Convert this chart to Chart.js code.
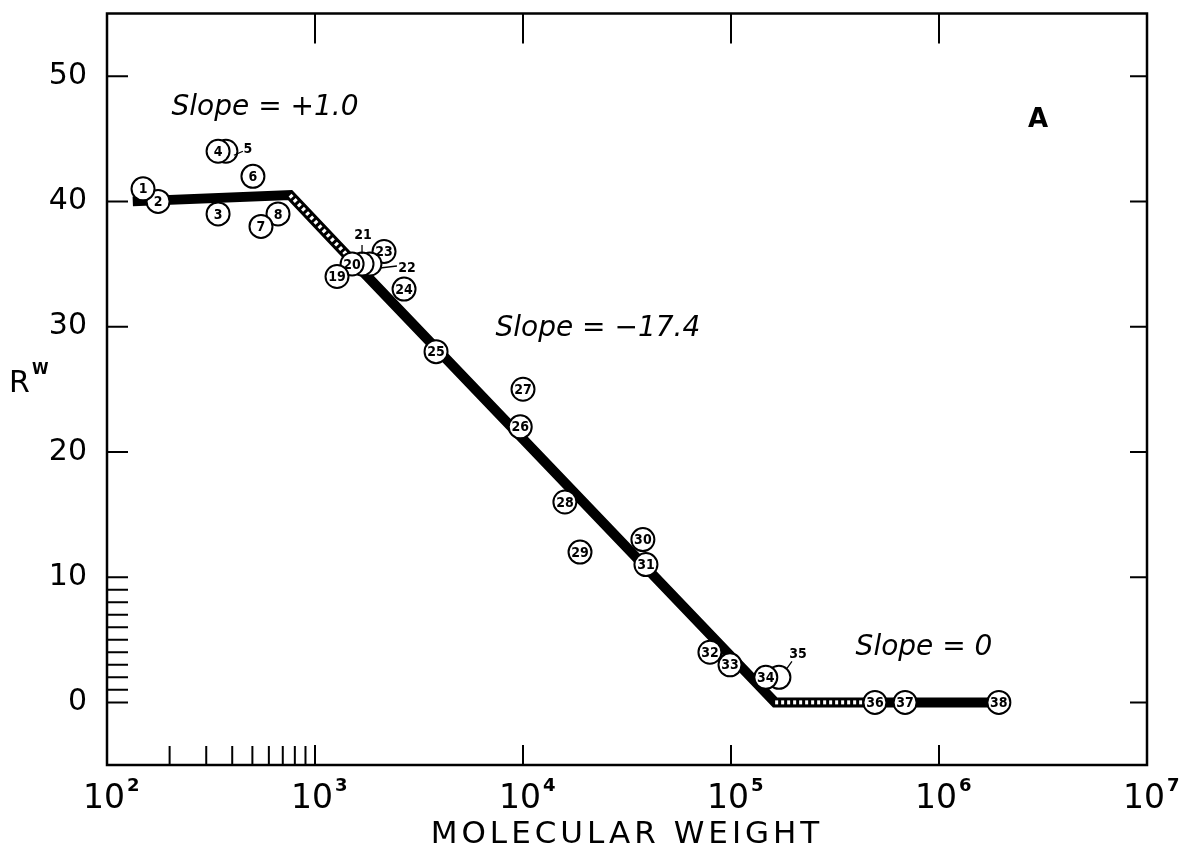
<!DOCTYPE html>
<html lang="en">
<head>
<meta charset="UTF-8">
<title>R^W vs Molecular Weight</title>
<script src="https://cdn.jsdelivr.net/npm/chart.js"></script>
<style>
  html, body { margin: 0; padding: 0; background: #fff; }
  #wrap { width: 1185px; height: 853px; }
</style>
</head>
<body>
<div id="wrap"><canvas id="chart"></canvas></div>
<script>
// numbered compounds: molecular weight and R^W
const ids = [1, 2, 3, 4, 5, 6, 7, 8, 19, 20, 21, 22, 23, 24, 25, 26, 27, 28, 29, 30, 31, 32, 33, 34, 35, 36, 37, 38];
const mw  = [149, 176, 342, 342, 373, 503, 550, 664, 1276, 1508, 1683, 1837, 2147, 2680, 3819, 9700, 10000, 15900, 18800, 37700, 39000, 79200, 98900, 147000, 170000, 492000, 687000, 1940000];
const rw  = [41, 40, 39, 44, 44, 42, 38, 39, 34, 35, 35, 35, 36, 33, 28, 22, 25, 16, 12, 13, 11, 4, 3, 2, 2, 0, 0, 0];

// fitted broken line; hatched[i] tells whether segment i..i+1 is hatched
const fitMw = [133, 759, 1426, 163000, 470000, 1950000];
const fitRw = [40, 40.5, 35.7, 0, 0, 0];
const hatched = [false, true, false, true, false];

// axis ticks
const xExp = [2, 3, 4, 5, 6, 7];
const xMinor = [200, 300, 400, 500, 600, 700, 800, 900];
const yTicks = [0, 10, 20, 30, 40, 50];
const yMinor = [1, 2, 3, 4, 5, 6, 7, 8, 9];

// draw higher numbers first so lower ones sit on top
const order = ids.map((_, i) => i).reverse();
const pts = order.map(i => ({ x: mw[i], y: rw[i] }));
const fitPts = fitMw.map((m, i) => ({ x: m, y: fitRw[i] }));

// numbers written outside their circle, with a short leader (pixel offsets)
const outside = {
  5:  { lx: 22, ly: -2,  a: [8, 4],  b: [17, 0] },
  21: { lx: 1,  ly: -29, a: [0, -19], b: [0, -10] },
  22: { lx: 37, ly: 4,   a: [10, 4], b: [27, 2] },
  35: { lx: 19, ly: -23, a: [8, -9], b: [13, -16] }
};

const FONT = "'DejaVu Sans', sans-serif";
const NUMFONT = "bold 14px 'DejaVu Sans Condensed', 'Liberation Sans Narrow', sans-serif";

const decor = {
  id: 'decor',
  afterDatasetsDraw(chart) {
    const { ctx } = chart;
    const meta = chart.getDatasetMeta(0);
    ctx.save();
    ctx.fillStyle = '#000';
    ctx.strokeStyle = '#000';
    ctx.textAlign = 'center';
    ctx.textBaseline = 'middle';
    ctx.font = NUMFONT;
    meta.data.forEach((el, k) => {
      const id = ids[order[k]];
      const o = outside[id];
      if (o) {
        ctx.lineWidth = 1.3;
        ctx.beginPath();
        ctx.moveTo(el.x + o.a[0], el.y + o.a[1]);
        ctx.lineTo(el.x + o.b[0], el.y + o.b[1]);
        ctx.stroke();
        ctx.fillText(String(id), el.x + o.lx, el.y + o.ly);
      } else {
        ctx.fillText(String(id), el.x, el.y + 1);
      }
    });
    ctx.restore();
  },
  afterDraw(chart) {
    const { ctx, chartArea: a, scales: { x, y } } = chart;
    ctx.save();
    ctx.strokeStyle = '#000';
    ctx.fillStyle = '#000';
    ctx.lineWidth = 2.5;
    ctx.strokeRect(a.left, a.top, a.right - a.left, a.bottom - a.top);

    // inward tick marks
    ctx.lineWidth = 2;
    ctx.beginPath();
    xExp.slice(1, -1).forEach(e => {
      const px = x.getPixelForValue(Math.pow(10, e));
      ctx.moveTo(px, a.top); ctx.lineTo(px, a.top + 30);
      ctx.moveTo(px, a.bottom); ctx.lineTo(px, a.bottom - 20);
    });
    xMinor.forEach(v => {
      const px = x.getPixelForValue(v);
      ctx.moveTo(px, a.bottom); ctx.lineTo(px, a.bottom - 19);
    });
    yTicks.forEach(v => {
      const py = y.getPixelForValue(v);
      ctx.moveTo(a.left, py); ctx.lineTo(a.left + 21, py);
      ctx.moveTo(a.right, py); ctx.lineTo(a.right - 17, py);
    });
    yMinor.forEach(v => {
      const py = y.getPixelForValue(v);
      ctx.moveTo(a.left, py); ctx.lineTo(a.left + 21, py);
    });
    ctx.stroke();

    // x tick labels: 10 with superscript exponent
    ctx.textBaseline = 'alphabetic';
    xExp.forEach(e => {
      const px = x.getPixelForValue(Math.pow(10, e));
      ctx.font = '33px ' + FONT;
      ctx.textAlign = 'center';
      ctx.fillText('10', px - 3, a.bottom + 43);
      const w = ctx.measureText('10').width;
      ctx.font = 'bold 18px ' + FONT;
      ctx.textAlign = 'left';
      ctx.fillText(String(e), px - 3 + w / 2 + 2, a.bottom + 26);
    });

    // axis titles
    ctx.font = '31px ' + FONT;
    ctx.textAlign = 'center';
    ctx.letterSpacing = '4px';
    ctx.fillText('MOLECULAR WEIGHT', (a.left + a.right) / 2, a.bottom + 78);
    ctx.letterSpacing = '0px';
    ctx.textAlign = 'left';
    ctx.font = '30px ' + FONT;
    ctx.fillText('R', 9, 392);
    ctx.font = 'bold 15px ' + FONT;
    ctx.fillText('W', 32, 374);

    // annotations
    ctx.textAlign = 'center';
    ctx.textBaseline = 'middle';
    ctx.font = 'italic 28px ' + FONT;
    ctx.fillText('Slope = +1.0', x.getPixelForValue(575), y.getPixelForValue(47.5));
    ctx.fillText('Slope = \u221217.4', x.getPixelForValue(22900), y.getPixelForValue(29.8));
    ctx.fillText('Slope = 0', x.getPixelForValue(847000), y.getPixelForValue(4.4));
    ctx.font = 'bold 26px ' + FONT;
    ctx.fillText('A', x.getPixelForValue(2990000), y.getPixelForValue(46.5));
    ctx.restore();
  }
};

new Chart(document.getElementById('chart'), {
  type: 'scatter',
  data: {
    datasets: [
      {
        label: 'compounds',
        data: pts,
        pointRadius: 11.5,
        pointBackgroundColor: '#fff',
        pointBorderColor: '#000',
        pointBorderWidth: 2,
        order: 0
      },
      {
        label: 'hatch',
        type: 'line',
        data: fitPts,
        borderWidth: 4,
        borderDash: [3, 3],
        pointRadius: 0,
        segment: {
          borderColor: c => hatched[c.p0DataIndex] ? '#fff' : 'rgba(0,0,0,0)'
        },
        order: 1
      },
      {
        label: 'fit',
        type: 'line',
        data: fitPts,
        borderColor: '#000',
        borderWidth: 10,
        borderJoinStyle: 'miter',
        pointRadius: 0,
        order: 2
      }
    ]
  },
  options: {
    responsive: true,
    maintainAspectRatio: false,
    animation: false,
    layout: { padding: { top: 10, right: 38, left: 0, bottom: 0 } },
    plugins: { legend: { display: false }, tooltip: { enabled: false } },
    scales: {
      x: {
        type: 'logarithmic',
        min: 100,
        max: 1e7,
        grid: { display: false },
        border: { display: false },
        ticks: { display: false },
        afterFit: s => { s.height = 88; s.paddingLeft = 0; s.paddingRight = 0; }
      },
      y: {
        min: -5,
        max: 55,
        grid: { display: false },
        border: { display: false },
        afterBuildTicks: s => { s.ticks = yTicks.map(v => ({ value: v })); },
        ticks: { color: '#000', font: { family: 'DejaVu Sans', size: 30 }, padding: 12 },
        afterFit: s => { s.width = 107; s.paddingTop = 0; s.paddingBottom = 0; }
      }
    }
  },
  plugins: [decor]
});
</script>
</body>
</html>
